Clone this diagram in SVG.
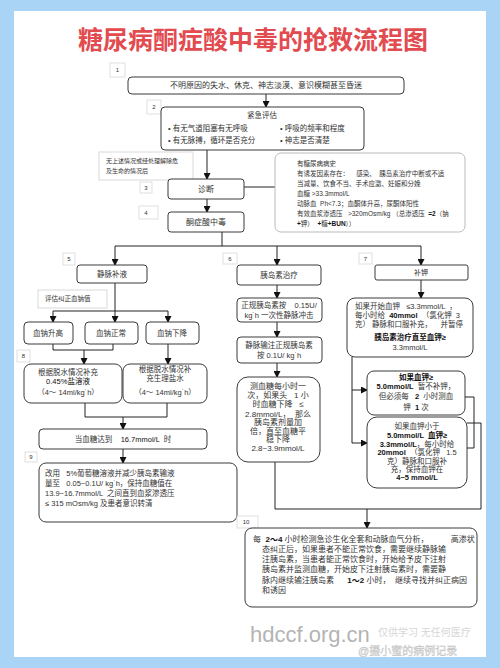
<svg xmlns="http://www.w3.org/2000/svg" width="500" height="668" viewBox="0 0 500 668">
<style>
text{font-family:"Liberation Sans","Noto Sans CJK SC",sans-serif;fill:#333;white-space:pre}
.t{font-size:25px;font-weight:bold;fill:#e24b50;text-anchor:middle}
.box{fill:#fff;stroke:#3a3a3a;stroke-width:1}
.lab{fill:#fff;stroke:#d8d8d8;stroke-width:0.8}
.note{fill:#fff;stroke:#d0d0d0;stroke-width:0.8}
.ln{font-size:6px;text-anchor:middle;fill:#333}
.c{text-anchor:middle}
.f8{font-size:8px}
.f75{font-size:7.5px}
.f7{font-size:7px}
.f65{font-size:6.5px}
.b{font-weight:bold;fill:#111}
.conn path{fill:none;stroke:#222;stroke-width:1}
</style>
<defs>
<marker id="ah" markerUnits="userSpaceOnUse" markerWidth="7" markerHeight="7" refX="6" refY="3.5" orient="auto">
<path d="M0,0 L7,3.5 L0,7 Z" fill="#111"/>
</marker>
</defs>
<rect x="0" y="0" width="500" height="668" fill="#a9d4f6"/>
<rect x="14" y="11" width="472" height="646" fill="#fff"/>
<text class="t" x="253" y="49">糖尿病酮症酸中毒的抢救流程图</text>

<g class="conn">
<path d="M266,94 V107" marker-end="url(#ah)"/>
<path d="M207,150 V179" marker-end="url(#ah)"/>
<path d="M207,199 V212" marker-end="url(#ah)"/>
<path d="M244,187 H275"/>
<path d="M222,232 V246 M115,246 H421"/>
<path d="M115,246 V265" marker-end="url(#ah)"/>
<path d="M277,246 V265" marker-end="url(#ah)"/>
<path d="M421,246 V265" marker-end="url(#ah)"/>
<path d="M115,283 V311 M53,311 H168"/>
<path d="M53,311 V322" marker-end="url(#ah)"/>
<path d="M115,311 V322" marker-end="url(#ah)"/>
<path d="M168,311 V322" marker-end="url(#ah)"/>
<path d="M53,344 V350 H113 V344"/>
<path d="M84,350 V364" marker-end="url(#ah)"/>
<path d="M168,344 V364" marker-end="url(#ah)"/>
<path d="M85,403 V417 H167 V403"/>
<path d="M123,417 V429" marker-end="url(#ah)"/>
<path d="M123,449 V463" marker-end="url(#ah)"/>
<path d="M277,285 V298" marker-end="url(#ah)"/>
<path d="M277,322 V337" marker-end="url(#ah)"/>
<path d="M277,363 V377" marker-end="url(#ah)"/>
<path d="M421,280 V298" marker-end="url(#ah)"/>
<path d="M352,357 V443"/>
<path d="M352,390 H367" marker-end="url(#ah)"/>
<path d="M352,443 H367" marker-end="url(#ah)"/>
<path d="M465,397 H474 V448 H467"/>
<path d="M467,423 H481 V509 H275 V462"/>
<path d="M367,509 V528" marker-end="url(#ah)"/>
</g>

<g id="n1">
<rect class="lab" x="110" y="63" width="15" height="14"/><text class="ln" x="117.5" y="72">1</text>
<rect class="box" x="128" y="77" width="276" height="17" rx="4"/>
<text class="c f8" x="266" y="88">不明原因的失水、休克、神志淡漠、意识模糊甚至昏迷</text>
</g>

<g id="n2">
<rect class="lab" x="147" y="100" width="14" height="14"/><text class="ln" x="154" y="109">2</text>
<rect class="box" x="161" y="107" width="203" height="43" rx="4"/>
<text class="c f75" x="262" y="118">紧急评估</text>
<text class="f75" x="168" y="131">• 有无气道阻塞有无呼吸</text>
<text class="f75" x="168" y="143">• 有无脉搏，循环是否充分</text>
<text class="f75" x="280" y="131">• 呼吸的频率和程度</text>
<text class="f75" x="280" y="143">• 神志是否清楚</text>
</g>

<g id="note1">
<rect class="note" x="99" y="152" width="94" height="28"/>
<text style="font-size:6px" x="106" y="163">无上述情况或经处理解除危</text>
<text style="font-size:6px" x="106" y="173">及生命的情况后</text>
</g>

<g id="n3">
<rect class="lab" x="140" y="182" width="12" height="11"/><text class="ln" x="146" y="190">3</text>
<rect class="box" x="168" y="179" width="76" height="20" rx="3"/>
<text class="c f8" x="206" y="192">诊断</text>
</g>

<g id="n4">
<rect class="lab" x="139" y="206" width="19" height="13"/><text class="ln" x="146" y="215">4</text>
<rect class="box" x="168" y="212" width="76" height="20" rx="3"/>
<text class="c f8" x="206" y="225">酮症酸中毒</text>
</g>

<g id="diag">
<rect class="box" x="275" y="153" width="190" height="79" rx="6" style="stroke:#bbb"/>
<text class="f65" x="297" y="166">有糖尿病病史</text>
<text class="f65" x="297" y="176">有诱发因素存在：    感染、  胰岛素治疗中断或不适</text>
<text class="f65" x="297" y="186">当减量、饮食不当、手术应激、妊娠和分娩</text>
<text class="f65" x="297" y="196">血糖 &gt;33.3mmol/L</text>
<text class="f65" x="297" y="206">动脉血  Ph&lt;7.3；血酮体升高，尿酮体阳性</text>
<text class="f65" x="297" y="216">有效血浆渗透压   &gt;320mOsm/kg （总渗透压  <tspan class="b">=2</tspan>（钠</text>
<text class="f65" x="297" y="226"><tspan class="b">+</tspan>钾）  <tspan class="b">+</tspan>糖<tspan class="b">+BUN</tspan>））</text>
</g>

<g id="n5">
<rect class="lab" x="63" y="253" width="12" height="12"/><text class="ln" x="69" y="261">5</text>
<rect class="box" x="77" y="265" width="70" height="18" rx="3"/>
<text class="c f75" x="112" y="277">静脉补液</text>
</g>

<g id="note2">
<rect class="note" x="38" y="290" width="69" height="18"/>
<text style="font-size:6.5px" x="45" y="301">评估纠正血钠值</text>
</g>

<g id="na">
<rect class="box" x="24" y="322" width="49" height="22" rx="4"/>
<text class="c f75" x="48" y="336">血钠升高</text>
</g>
<g id="nb">
<rect class="box" x="85" y="322" width="53" height="22" rx="4"/>
<text class="c f75" x="111" y="336">血钠正常</text>
</g>
<g id="nc">
<rect class="box" x="146" y="322" width="53" height="22" rx="4"/>
<text class="c f75" x="172" y="336">血钠下降</text>
</g>

<g id="n8">
<rect class="lab" x="17" y="350" width="13" height="12"/><text class="ln" x="23.5" y="358">8</text>
<rect class="box" x="24" y="364" width="98" height="39" rx="7"/>
<text class="c f75" x="68" y="375">根据脱水情况补充</text>
<text class="c f75 b" x="68" y="384" style="font-weight:normal">0.45%盐溶液</text>
<text class="c f75" x="68" y="395">（4～ 14ml/kg˙h）</text>
</g>
<g id="n8b">
<rect class="box" x="123" y="364" width="84" height="39" rx="7"/>
<text class="c f75" x="165" y="372">根据脱水情况补</text>
<text class="c f75" x="165" y="381">充生理盐水</text>
<text class="c f75" x="165" y="395">（4～ 14ml/kg˙h）</text>
</g>

<g id="n16">
<rect class="box" x="39" y="429" width="168" height="20" rx="4"/>
<text class="c f75" x="123" y="442">当血糖达到    <tspan class="b" style="font-weight:normal">16.7mmol/L</tspan>  时</text>
</g>

<g id="n9">
<rect class="lab" x="25" y="452" width="12" height="10"/><text class="ln" x="31" y="459">9</text>
<rect class="box" x="39" y="463" width="198" height="59" rx="7"/>
<text class="f75" x="45" y="476">改用   5%葡萄糖溶液并减少胰岛素输液</text>
<text class="f75" x="45" y="486">量至   0.05~0.1U/ kg˙h，保持血糖值在</text>
<text class="f75" x="45" y="496">13.9~16.7mmol/L  之间直到血浆渗透压</text>
<text class="f75" x="45" y="506">≤ 315 mOsm/kg 及患者意识转清</text>
</g>

<g id="n6">
<rect class="lab" x="223" y="253" width="14" height="11"/><text class="ln" x="230" y="261">6</text>
<rect class="box" x="237" y="265" width="84" height="20" rx="3"/>
<text class="c f75" x="279" y="278">胰岛素治疗</text>
</g>
<g id="n6a">
<rect class="box" x="237" y="298" width="85" height="24" rx="4"/>
<text class="c f75" x="279" y="308">正规胰岛素按    0.15U/</text>
<text class="c f75" x="279" y="318">kg˙h 一次性静脉冲击</text>
</g>
<g id="n6b">
<rect class="box" x="237" y="337" width="85" height="26" rx="4"/>
<text class="c f75" x="279" y="348">静脉输注正规胰岛素</text>
<text class="c f75" x="279" y="358">按 0.1U/ kg˙h</text>
</g>
<g id="n6c">
<rect class="box" x="237" y="377" width="83" height="85" rx="11"/>
<text class="c f8" x="278" y="389">测血糖每小时一</text>
<text class="c f8" x="278" y="398">次，如果头   1 小</text>
<text class="c f8" x="278" y="407">时血糖下降   ≤</text>
<text class="c f8" x="278" y="417">2.8mmol/L，  那么</text>
<text class="c f8" x="278" y="425">胰岛素剂量加</text>
<text class="c f8" x="278" y="434">倍，直至血糖平</text>
<text class="c f8" x="278" y="442">稳下降</text>
<text class="c f8" x="278" y="451">2.8~3.9mmol/L</text>
</g>

<g id="n7">
<rect class="lab" x="359" y="253" width="13" height="11"/><text class="ln" x="365.5" y="261">7</text>
<rect class="box" x="375" y="265" width="93" height="15" rx="2"/>
<text class="c f7" x="421" y="275">补钾</text>
</g>
<g id="n7a">
<rect class="box" x="347" y="298" width="126" height="59" rx="8"/>
<text class="f75" x="355" y="309">如果开始血钾   ≤3.3mmol/L  ，</text>
<text class="f75" x="355" y="318">每小时给  <tspan class="b">40mmol</tspan>  （氯化钾  3</text>
<text class="f75" x="355" y="327">克） 静脉和口服补充，    并暂停</text>
<text class="c f75 b" x="410" y="340">胰岛素治疗直至血钾≥</text>
<text class="c f75" x="410" y="350">3.3mmol/L</text>
</g>
<g id="n7b">
<rect class="box" x="367" y="371" width="98" height="44" rx="7"/>
<text class="c f75 b" x="416" y="380">如果血钾≥</text>
<text class="c f75" x="416" y="389"><tspan class="b">5.0mmol/L</tspan>  暂不补钾，</text>
<text class="c f75" x="416" y="399">但必须每   <tspan class="b">2</tspan>  小时测血</text>
<text class="c f75" x="416" y="410">钾  <tspan class="b">1</tspan> 次</text>
</g>
<g id="n7c">
<rect class="box" x="367" y="417" width="100" height="71" rx="10"/>
<text class="c f75" x="417" y="429">如果血钾小于</text>
<text class="c f75" x="417" y="438"><tspan class="b">5.0mmol/L  血钾≥</tspan></text>
<text class="c f75" x="417" y="447"><tspan class="b">3.3mmol/L</tspan>，每小时给</text>
<text class="c f75" x="417" y="455"><tspan class="b">20mmol</tspan>  （氯化钾   1.5</text>
<text class="c f75" x="417" y="464">克）静脉和口服补</text>
<text class="c f75" x="417" y="472">充，保持血钾在</text>
<text class="c f75" x="417" y="480"><tspan class="b">4~5 mmol/L</tspan></text>
</g>

<g id="n10">
<rect class="lab" x="237" y="516" width="21" height="12"/><text class="ln" x="246" y="524">10</text>
<rect class="box" x="245" y="528" width="232" height="79" rx="7"/>
<text class="f8" x="253" y="542">每  <tspan class="b">2～4</tspan> 小时检测急诊生化全套和动脉血气分析，          高渗状</text>
<text class="f8" x="262" y="552">态纠正后，如果患者不能正常饮食，需要继续静脉输</text>
<text class="f8" x="262" y="562">注胰岛素，当患者能正常饮食时，开始给予皮下注射</text>
<text class="f8" x="262" y="572">胰岛素并监测血糖，开始皮下注射胰岛素时，需要静</text>
<text class="f8" x="262" y="583">脉内继续输注胰岛素      <tspan class="b">1～2</tspan> 小时，  继续寻找并纠正病因</text>
<text class="f8" x="262" y="593">和诱因</text>
</g>

<g id="wm">
<text x="250" y="642" style="font-size:22px;fill:#b4b4b4">hdccf.org.cn</text>
<text x="378" y="636" style="font-size:10px;fill:#d6d6d6">仅供学习 无任何医疗</text>
<text x="358" y="655" style="font-size:11px;fill:#e6e6e6;stroke:#c4c4c4;stroke-width:0.4">@摄小蜜的病例记录</text>
</g>
</svg>
